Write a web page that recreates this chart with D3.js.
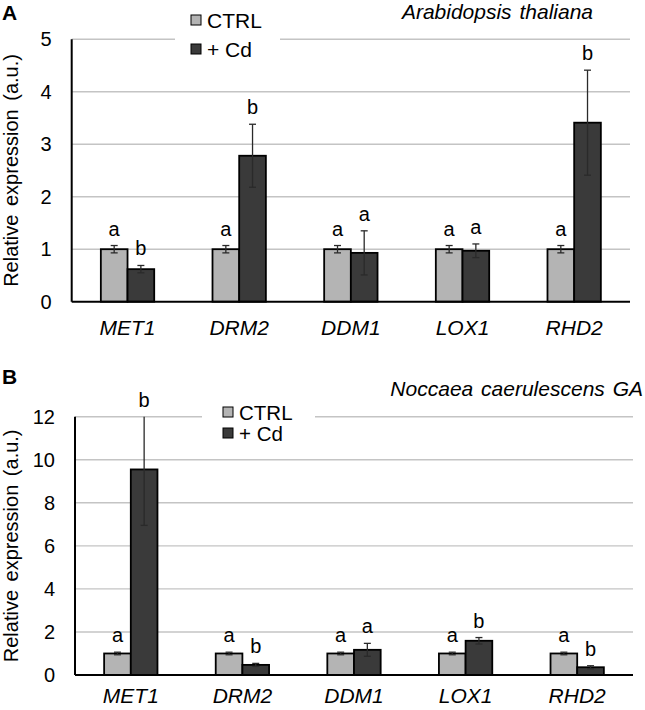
<!DOCTYPE html>
<html>
<head>
<meta charset="utf-8">
<script src="https://cdn.jsdelivr.net/npm/d3@7"></script>
<style>
  html, body { margin: 0; padding: 0; background: #fff; }
  svg { display: block; font-family: "Liberation Sans", Arial, sans-serif; }
</style>
</head>
<body>
<svg id="chart" width="645" height="710"></svg>
<script>
// ---------- data ----------
const genes = ["MET1", "DRM2", "DDM1", "LOX1", "RHD2"];
const seriesNames = ["CTRL", "+ Cd"];

// Panel A: Arabidopsis thaliana
const aCtrl    = [1, 1, 1, 1, 1];
const aCtrlErr = [0.07, 0.07, 0.07, 0.07, 0.07];
const aCd      = [0.62, 2.78, 0.93, 0.97, 3.41];
const aCdErr   = [0.07, 0.60, 0.42, 0.13, 1.00];
const aCtrlLetters = ["a", "a", "a", "a", "a"];
const aCdLetters   = ["b", "b", "a", "a", "b"];
const aTicks = [0, 1, 2, 3, 4, 5];

// Panel B: Noccaea caerulescens GA
const bCtrl    = [1, 1, 1, 1, 1];
const bCtrlErr = [0.06, 0.06, 0.06, 0.06, 0.06];
const bCd      = [9.55, 0.47, 1.17, 1.59, 0.36];
const bCdErr   = [2.60, 0.07, 0.30, 0.15, 0.07];
const bCtrlLetters = ["a", "a", "a", "a", "a"];
const bCdLetters   = ["b", "b", "a", "b", "b"];
const bTicks = [0, 2, 4, 6, 8, 10, 12];

const colors = { "CTRL": "#b4b4b4", "+ Cd": "#3a3a3a" };

// ---------- drawing ----------
const svg = d3.select("#chart");
const FONT = 20;

function panel(cfg) {
  const g = svg.append("g");
  const x = d3.scaleBand().domain(genes).range([cfg.left, cfg.right]).padding(0);
  const barW = x.bandwidth() * 0.239;
  const xs = d3.scaleBand().domain(seriesNames).range([-barW, barW]).padding(0);
  const y = d3.scaleLinear().domain([0, d3.max(cfg.ticks)]).range([cfg.bottom, cfg.top]);
  const yMax = d3.max(cfg.ticks);

  // gridlines
  g.append("g").selectAll("line").data(cfg.ticks.filter(t => t > 0)).join("line")
    .attr("x1", cfg.left).attr("x2", cfg.right)
    .attr("y1", d => y(d)).attr("y2", d => y(d))
    .attr("stroke", "#c4c4c4").attr("stroke-width", 1.4);

  // y axis labels (via d3 axis, no tick lines)
  const yAxis = g.append("g").attr("transform", `translate(${cfg.left},0)`)
    .call(d3.axisLeft(y).tickValues(cfg.ticks).tickSize(0).tickPadding(20).tickFormat(d3.format("d")));
  yAxis.select(".domain").remove();
  yAxis.selectAll("text").attr("font-size", FONT).attr("fill", "#000")
    .attr("font-family", "Liberation Sans, Arial, sans-serif");

  // bars
  const rows = genes.map((gname, i) => ([
    { gene: gname, s: "CTRL", v: cfg.ctrl[i], e: cfg.ctrlErr[i], l: cfg.ctrlL[i] },
    { gene: gname, s: "+ Cd", v: cfg.cd[i], e: cfg.cdErr[i], l: cfg.cdL[i] }
  ])).flat();

  const cx = d => x(d.gene) + x.bandwidth() / 2 + xs(d.s);
  g.append("g").selectAll("rect").data(rows).join("rect")
    .attr("x", d => cx(d))
    .attr("y", d => y(d.v))
    .attr("width", xs.bandwidth())
    .attr("height", d => y(0) - y(d.v))
    .attr("fill", d => colors[d.s])
    .attr("stroke", "#000").attr("stroke-width", 1.8);

  // error bars
  const eb = g.append("g").attr("stroke", "#2a2a2a").attr("stroke-width", 1.3);
  rows.forEach(d => {
    const mx = cx(d) + xs.bandwidth() / 2;
    const topV = Math.min(d.v + d.e, yMax);
    eb.append("line").attr("x1", mx).attr("x2", mx)
      .attr("y1", y(d.v - d.e)).attr("y2", y(topV));
    eb.append("line").attr("x1", mx - 3.5).attr("x2", mx + 3.5)
      .attr("y1", y(d.v - d.e)).attr("y2", y(d.v - d.e));
    if (d.v + d.e <= yMax) {
      eb.append("line").attr("x1", mx - 3.5).attr("x2", mx + 3.5)
        .attr("y1", y(topV)).attr("y2", y(topV));
    }
  });

  // significance letters
  g.append("g").selectAll("text").data(rows).join("text")
    .attr("x", d => cx(d) + xs.bandwidth() / 2)
    .attr("y", d => y(Math.min(d.v + d.e, yMax)) - 10)
    .attr("text-anchor", "middle")
    .attr("font-size", 20)
    .attr("fill", "#000")
    .text(d => d.l);

  // axes lines
  g.append("line").attr("x1", cfg.left).attr("x2", cfg.left)
    .attr("y1", cfg.top).attr("y2", cfg.bottom)
    .attr("stroke", "#000").attr("stroke-width", 2);
  g.append("line").attr("x1", cfg.left).attr("x2", cfg.right)
    .attr("y1", cfg.bottom).attr("y2", cfg.bottom)
    .attr("stroke", "#000").attr("stroke-width", 2);

  // x labels
  const xAxis = g.append("g").attr("transform", `translate(0,${cfg.bottom})`)
    .call(d3.axisBottom(x).tickSize(0).tickPadding(cfg.xPad));
  xAxis.select(".domain").remove();
  xAxis.selectAll("text").attr("font-size", 21).attr("font-style", "italic").attr("fill", "#000")
    .attr("font-family", "Liberation Sans, Arial, sans-serif");

  // y title
  g.append("text")
    .attr("transform", `translate(${cfg.titleX},${(cfg.top + cfg.bottom) / 2}) rotate(-90)`)
    .attr("text-anchor", "middle")
    .attr("font-size", 20)
    .attr("word-spacing", 3)
    .attr("fill", "#000")
    .text("Relative expression (a.u.)");

  // species title
  g.append("text")
    .attr("x", cfg.specX).attr("y", cfg.specY)
    .attr("text-anchor", "end")
    .attr("font-size", 21).attr("font-style", "italic")
    .attr("word-spacing", 2)
    .attr("fill", "#000")
    .text(cfg.species);

  // panel letter
  g.append("text").attr("x", 2).attr("y", cfg.letterY)
    .attr("font-size", 21).attr("font-weight", "bold").attr("fill", "#000")
    .text(cfg.letter);

  // legend
  const lg = g.append("g");
  lg.append("rect").attr("x", cfg.leg.x0).attr("y", cfg.leg.y0)
    .attr("width", cfg.leg.x1 - cfg.leg.x0).attr("height", cfg.leg.h).attr("fill", "#fff");
  seriesNames.forEach((s, i) => {
    const by = cfg.leg.base + i * cfg.leg.gap;
    lg.append("rect").attr("x", cfg.leg.sx).attr("y", by - 12.5).attr("width", 10).attr("height", 10)
      .attr("fill", colors[s]).attr("stroke", "#000").attr("stroke-width", 1);
    lg.append("text").attr("x", cfg.leg.sx + 16).attr("y", by)
      .attr("font-size", cfg.leg.fs).attr("fill", "#000").text(s);
  });
}

panel({
  left: 71.7, right: 630, top: 39.2, bottom: 301.7, xPad: 18,
  ticks: aTicks, ctrl: aCtrl, ctrlErr: aCtrlErr, cd: aCd, cdErr: aCdErr,
  ctrlL: aCtrlLetters, cdL: aCdLetters,
  titleX: 18, species: "Arabidopsis thaliana", specX: 593, specY: 19,
  letter: "A", letterY: 20,
  leg: { x0: 175, x1: 280, y0: 30, h: 20, sx: 191, base: 27.5, gap: 29, fs: 21 }
});

panel({
  left: 75, right: 633, top: 416.7, bottom: 675, xPad: 13,
  ticks: bTicks, ctrl: bCtrl, ctrlErr: bCtrlErr, cd: bCd, cdErr: bCdErr,
  ctrlL: bCtrlLetters, cdL: bCdLetters,
  titleX: 18, species: "Noccaea caerulescens GA", specX: 643, specY: 396,
  letter: "B", letterY: 384,
  leg: { x0: 202, x1: 315, y0: 408, h: 18, sx: 223, base: 419.5, gap: 21, fs: 20.5 }
});
</script>
</body>
</html>
